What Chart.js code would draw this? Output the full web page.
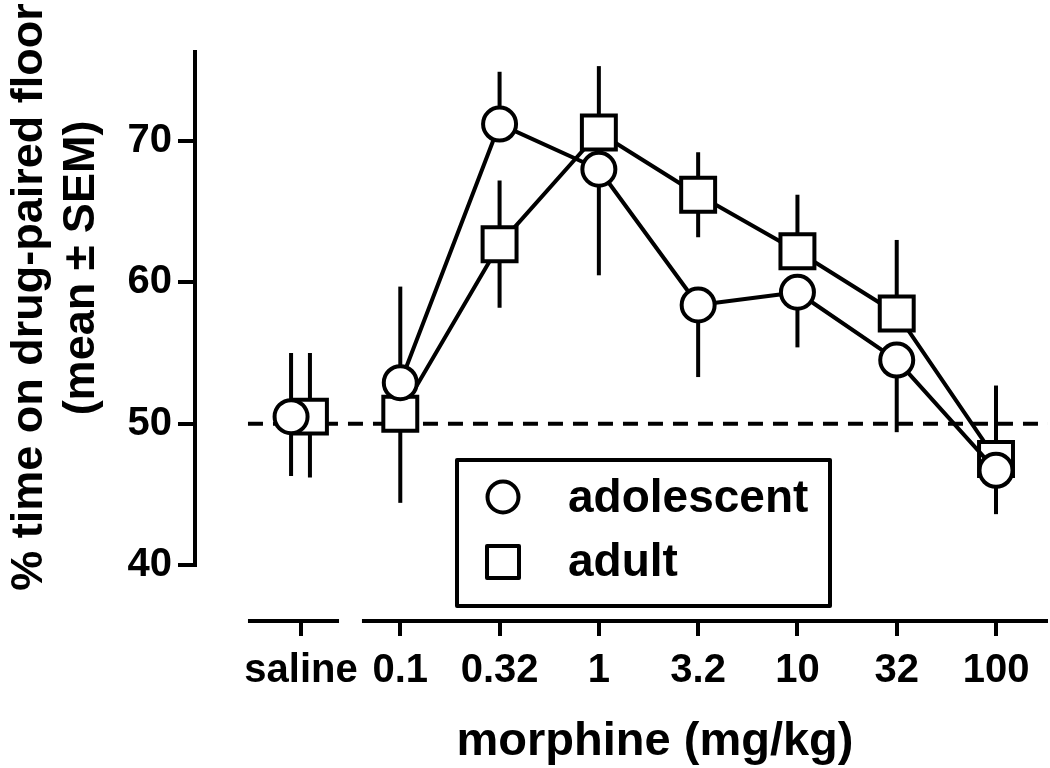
<!DOCTYPE html>
<html>
<head>
<meta charset="utf-8">
<script src="https://cdn.jsdelivr.net/npm/chart.js@4.4.1/dist/chart.umd.min.js"></script>
<style>
  html, body { margin: 0; padding: 0; background: #fff; }
  canvas { display: block; }
</style>
</head>
<body>
<canvas id="c" width="1050" height="768"></canvas>
<script>
// ---- data ----
const doses = ['saline', '0.1', '0.32', '1', '3.2', '10', '32', '100'];
const yTicks = [40, 50, 60, 70];
const chanceLevel = 50;

const adolescentMean = [50.5, 52.9, 71.2, 68.0, 58.4, 59.3, 54.5, 46.7];
const adolescentHigh = [55.0, 59.7, 74.9, null, null, null, null, null];
const adolescentLow  = [46.3, null, null, 60.5, 53.3, 55.4, 49.4, 43.6];

const adultMean = [50.5, 50.7, 62.7, 70.6, 66.2, 62.2, 57.8, 47.5];
const adultHigh = [55.0, null, 67.2, 75.3, 69.2, 66.2, 63.0, 52.7];
const adultLow  = [46.2, 44.4, 58.2, null, 63.2, null, null, null];

const seriesNames = ['adolescent', 'adult'];

// ---- helpers ----
const FONT = '"Liberation Sans", Arial, Helvetica, sans-serif';
const salineShift = [-0.1, 0.09];
function toPoints(mean, k) {
  return mean.map((v, i) => ({ x: i === 0 ? i + salineShift[k] : i, y: v }));
}
const errors = [
  { low: adolescentLow, high: adolescentHigh, mean: adolescentMean },
  { low: adultLow, high: adultHigh, mean: adultMean }
];

const hideSalineLink = {
  borderColor: ctx => ctx.p0DataIndex === 0 ? 'rgba(0,0,0,0)' : '#000'
};

const decorPlugin = {
  id: 'decor',
  beforeDatasetsDraw(chart) {
    const { ctx, scales: { x, y }, chartArea } = chart;
    ctx.save();
    // dashed chance line
    ctx.strokeStyle = '#000';
    ctx.lineWidth = 4;
    ctx.setLineDash([15, 10]);
    const y50 = y.getPixelForValue(chanceLevel);
    ctx.beginPath();
    ctx.moveTo(x.getPixelForValue(-0.534), y50);
    ctx.lineTo(chartArea.right, y50);
    ctx.stroke();
    ctx.setLineDash([]);
    // error bars
    errors.forEach((e, k) => {
      const pts = chart.data.datasets[k].data;
      pts.forEach((p, i) => {
        const px = x.getPixelForValue(p.x);
        const pm = y.getPixelForValue(e.mean[i]);
        ctx.beginPath();
        if (e.high[i] != null) { ctx.moveTo(px, pm); ctx.lineTo(px, y.getPixelForValue(e.high[i])); }
        if (e.low[i] != null) { ctx.moveTo(px, pm); ctx.lineTo(px, y.getPixelForValue(e.low[i])); }
        ctx.stroke();
      });
    });
    ctx.restore();
  },
  afterDraw(chart) {
    const { ctx, scales: { x, y }, chartArea } = chart;
    ctx.save();
    ctx.strokeStyle = '#000';
    ctx.fillStyle = '#000';
    ctx.lineWidth = 4;
    ctx.lineCap = 'butt';
    // y axis line (offset style, 40 to top)
    ctx.beginPath();
    ctx.moveTo(chartArea.left, y.getPixelForValue(40) + 2);
    ctx.lineTo(chartArea.left, chartArea.top);
    ctx.stroke();
    // broken x axis
    const yb = chartArea.bottom;
    ctx.beginPath();
    ctx.moveTo(x.getPixelForValue(-0.534), yb);
    ctx.lineTo(x.getPixelForValue(0.383), yb);
    ctx.moveTo(x.getPixelForValue(0.614), yb);
    ctx.lineTo(chartArea.right, yb);
    ctx.stroke();

    // axis titles
    ctx.textAlign = 'center';
    ctx.textBaseline = 'middle';
    ctx.font = 'bold 47px ' + FONT;
    ctx.fillText('morphine (mg/kg)', 655, 742);
    ctx.save();
    ctx.translate(30, 297);
    ctx.rotate(-Math.PI / 2);
    ctx.font = 'bold 45px ' + FONT;
    ctx.fillText('% time on drug-paired floor', 0, 0);
    ctx.restore();
    ctx.save();
    ctx.translate(82, 268);
    ctx.rotate(-Math.PI / 2);
    ctx.font = 'bold 45px ' + FONT;
    ctx.fillText('(mean \u00B1 SEM)', 0, 0);
    ctx.restore();

    // legend box
    ctx.lineJoin = 'round';
    ctx.strokeRect(457, 460, 373, 146);
    ctx.fillStyle = '#fff';
    ctx.beginPath();
    ctx.arc(503, 497, 15.5, 0, Math.PI * 2);
    ctx.fill(); ctx.stroke();
    ctx.beginPath();
    ctx.rect(487, 546, 32, 32);
    ctx.fill(); ctx.stroke();
    ctx.fillStyle = '#000';
    ctx.textAlign = 'left';
    ctx.textBaseline = 'alphabetic';
    ctx.font = 'bold 46px ' + FONT;
    ctx.fillText(chart.data.datasets[0].label, 568, 512);
    ctx.fillText(chart.data.datasets[1].label, 568, 576);
    ctx.restore();
  }
};

new Chart(document.getElementById('c'), {
  type: 'line',
  data: {
    datasets: [
      {
        label: seriesNames[0],
        data: toPoints(adolescentMean, 0),
        borderColor: '#000', borderWidth: 4,
        pointStyle: 'circle', pointRadius: 16.5, pointBorderWidth: 4,
        pointBackgroundColor: '#fff', pointBorderColor: '#000',
        tension: 0, segment: hideSalineLink, clip: false
      },
      {
        label: seriesNames[1],
        data: toPoints(adultMean, 1),
        borderColor: '#000', borderWidth: 4,
        pointStyle: 'rect', pointRadius: 24, pointBorderWidth: 4,
        pointBackgroundColor: '#fff', pointBorderColor: '#000',
        tension: 0, segment: hideSalineLink, clip: false
      }
    ]
  },
  options: {
    responsive: false,
    animation: false,
    layout: { autoPadding: false, padding: { top: 50, right: 2, left: 0, bottom: 0 } },
    plugins: { legend: { display: false }, tooltip: { enabled: false } },
    elements: { line: { borderJoinStyle: 'round' } },
    scales: {
      x: {
        type: 'linear',
        min: -1.0676, max: 7.5236,
        afterBuildTicks: s => { s.ticks = doses.map((d, i) => ({ value: i })); },
        afterFit: s => { s.height = 147; s.paddingLeft = 0; s.paddingRight = 0; },
        ticks: {
          callback: v => doses[v],
          color: '#000',
          font: { family: FONT, size: 40, weight: 'bold' },
          padding: 11, maxRotation: 0, autoSkip: false
        },
        grid: {
          display: true, drawOnChartArea: false, drawTicks: true,
          tickLength: 15, tickWidth: 4, tickColor: '#000', lineWidth: 4, color: '#000'
        },
        border: { display: false }
      },
      y: {
        min: 36.04, max: 76.44,
        afterBuildTicks: s => { s.ticks = yTicks.map(v => ({ value: v })); },
        afterFit: s => { s.width = 195; s.paddingTop = 0; s.paddingBottom = 0; },
        ticks: {
          color: '#000',
          font: { family: FONT, size: 40, weight: 'bold' },
          padding: 6
        },
        grid: {
          display: true, drawOnChartArea: false, drawTicks: true,
          tickLength: 17, tickWidth: 4, tickColor: '#000', lineWidth: 4, color: '#000'
        },
        border: { display: false }
      }
    }
  },
  plugins: [decorPlugin]
});
</script>
</body>
</html>
